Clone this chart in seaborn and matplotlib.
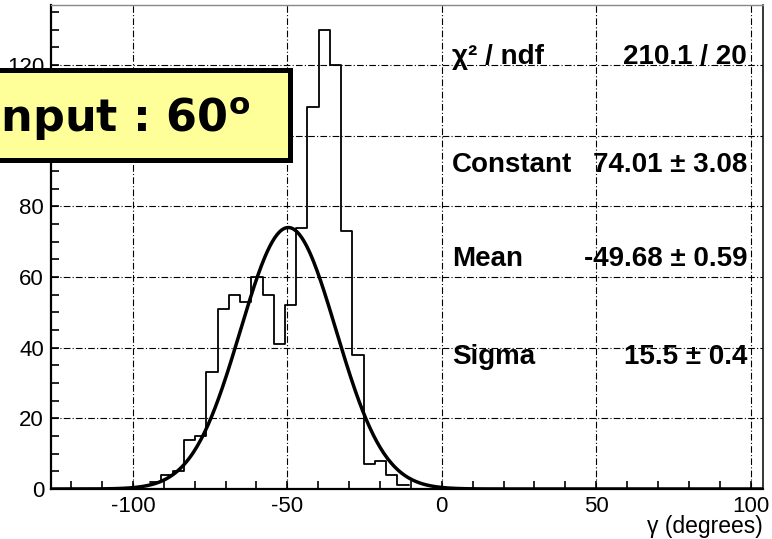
import numpy as np
import pandas as pd
import matplotlib
matplotlib.use("Agg")
import matplotlib.pyplot as plt
import seaborn as sns
from matplotlib.patches import Rectangle
from matplotlib.ticker import MultipleLocator

# ---- data ----
first_edge = -94.4          # left edge of first non-empty bin (degrees)
bin_width = 3.638           # degrees
counts = [2, 4, 5, 14, 15, 33, 51, 55, 53, 60, 55, 41, 52, 74, 108, 130, 120,
          73, 38, 7, 8, 4, 1]

fit_constant = 74.01
fit_mean = -49.68
fit_sigma = 15.5

stat_names = ["\u03c7\u00b2 / ndf", "Constant", "Mean", "Sigma"]
stat_values = ["210.1 / 20", "74.01 \u00b1 3.08", "-49.68 \u00b1 0.59", "15.5 \u00b1 0.4"]

x_range = (-126.5, 104.0)
y_range = (0, 137)
x_label = "\u03b3 (degrees)"
box_text = r"Input : 60$^\mathbf{o}$"

# ---- build tables ----
edges = first_edge + bin_width * np.arange(len(counts) + 1)
centers = 0.5 * (edges[:-1] + edges[1:])
hist_df = pd.DataFrame({"gamma": centers, "n": counts})
xs = np.linspace(x_range[0], x_range[1], 600)
fit_df = pd.DataFrame({"gamma": xs,
                       "f": fit_constant * np.exp(-0.5 * ((xs - fit_mean) / fit_sigma) ** 2)})

sns.set_style("white")
plt.rcParams["font.family"] = ["Liberation Sans", "DejaVu Sans"]
plt.rcParams["mathtext.fontset"] = "dejavusans"
plt.rcParams["axes.unicode_minus"] = False
plt.rcParams["text.color"] = "black"
plt.rcParams["xtick.color"] = "black"
plt.rcParams["ytick.color"] = "black"
plt.rcParams["xtick.labelcolor"] = "black"
plt.rcParams["ytick.labelcolor"] = "black"

W, H = 772, 539
fig = plt.figure(figsize=(W / 100, H / 100), dpi=100)
ax = fig.add_axes([51 / W, 1 - 489 / H, (763 - 51) / W, (489 - 5) / H])

ax.grid(True, which="major", color="black", lw=0.8, linestyle=(0, (6, 2, 1, 2)))
ax.set_axisbelow(True)

sns.histplot(data=hist_df, x="gamma", weights="n", binwidth=bin_width,
             binrange=(float(edges[0]), float(edges[-1])), element="step",
             fill=False, color="black", lw=1.3, ax=ax)
sns.lineplot(data=fit_df, x="gamma", y="f", color="black", lw=2.5, ax=ax)

ax.set_xlim(*x_range)
ax.set_ylim(*y_range)
ax.set_xlabel("")
ax.set_ylabel("")
ax.xaxis.set_major_locator(MultipleLocator(50))
ax.xaxis.set_minor_locator(MultipleLocator(10))
ax.yaxis.set_major_locator(MultipleLocator(20))
ax.yaxis.set_minor_locator(MultipleLocator(5))
ax.tick_params(which="both", direction="in", length=6, width=1.2, color="black",
               top=False, right=False, bottom=True, left=True)
ax.tick_params(which="major", labelsize=16, pad=5, labelcolor="black")

for side in ["left", "bottom"]:
    ax.spines[side].set_linewidth(1.6)
    ax.spines[side].set_color("black")
ax.spines["right"].set_linewidth(1.1)
ax.spines["right"].set_color("black")
ax.spines["top"].set_linewidth(1.0)
ax.spines["top"].set_color("#888888")

fig.text(763 / W, 1 - 533 / H, x_label, ha="right", va="baseline", fontsize=16.5,
         color="black")

# stats box text
stat_y = [57, 165, 259, 357]
for name, val, yp in zip(stat_names, stat_values, stat_y):
    fig.text(452 / W, 1 - yp / H, name, ha="left", va="center",
             fontsize=20, fontweight="bold", color="black")
    fig.text(747 / W, 1 - yp / H, val, ha="right", va="center",
             fontsize=20, fontweight="bold", color="black")

# yellow label box
rect = Rectangle((-60 / W, 1 - 160.5 / H), (289.5 + 60) / W, 90 / H,
                 transform=fig.transFigure, facecolor="#ffff99",
                 edgecolor="black", lw=3.6, zorder=10, clip_on=False)
fig.add_artist(rect)
fig.text(250 / W, 1 - 132 / H, box_text, ha="right", va="baseline",
         fontsize=32, fontweight="bold", family="DejaVu Sans", zorder=11,
         color="black")

fig.savefig("out.png", dpi=100)
